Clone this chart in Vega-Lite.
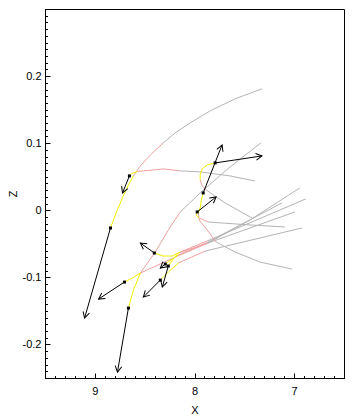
{
  "$schema": "https://vega.github.io/schema/vega-lite/v6.json",
  "width": 299,
  "height": 369,
  "autosize": {"type": "none"},
  "padding": {"left": 45, "top": 9, "right": 11, "bottom": 40},
  "background": "white",
  "config": {
    "view": {"stroke": "black", "strokeWidth": 1},
    "axis": {
      "grid": false,
      "domainColor": "black",
      "tickColor": "black",
      "labelColor": "black",
      "titleColor": "black",
      "labelFont": "Liberation Sans",
      "titleFont": "Liberation Sans",
      "labelFontSize": 11,
      "titleFontSize": 11,
      "titleFontWeight": "normal",
      "labelOverlap": false,
      "labelBound": false,
      "labelFlush": false,
      "tickCount": 500
    }
  },
  "datasets": {
    "trails": [
      {"t":1,"s":"new","i":0,"x":8.843,"z":-0.0264},
      {"t":1,"s":"new","i":1,"x":8.783,"z":-0.0025},
      {"t":1,"s":"new","i":2,"x":8.723,"z":0.0184},
      {"t":1,"s":"new","i":3,"x":8.663,"z":0.0378},
      {"t":1,"s":"new","i":4,"x":8.613,"z":0.0512},
      {"t":1,"s":"mid","i":0,"x":8.613,"z":0.0512},
      {"t":1,"s":"mid","i":1,"x":8.543,"z":0.0661},
      {"t":1,"s":"mid","i":2,"x":8.443,"z":0.0825},
      {"t":1,"s":"mid","i":3,"x":8.313,"z":0.1004},
      {"t":1,"s":"old","i":0,"x":8.313,"z":0.1004},
      {"t":1,"s":"old","i":1,"x":8.193,"z":0.1154},
      {"t":1,"s":"old","i":2,"x":8.043,"z":0.1303},
      {"t":1,"s":"old","i":3,"x":7.843,"z":0.1482},
      {"t":1,"s":"old","i":4,"x":7.593,"z":0.1661},
      {"t":1,"s":"old","i":5,"x":7.323,"z":0.1810},
      {"t":2,"s":"new","i":0,"x":8.653,"z":0.0512},
      {"t":2,"s":"new","i":1,"x":8.628,"z":0.0549},
      {"t":2,"s":"new","i":2,"x":8.573,"z":0.0579},
      {"t":2,"s":"mid","i":0,"x":8.573,"z":0.0579},
      {"t":2,"s":"mid","i":1,"x":8.413,"z":0.0601},
      {"t":2,"s":"mid","i":2,"x":8.313,"z":0.0616},
      {"t":2,"s":"mid","i":3,"x":8.143,"z":0.0587},
      {"t":2,"s":"old","i":0,"x":8.143,"z":0.0587},
      {"t":2,"s":"old","i":1,"x":7.943,"z":0.0572},
      {"t":2,"s":"old","i":2,"x":7.643,"z":0.0512},
      {"t":2,"s":"old","i":3,"x":7.393,"z":0.0437},
      {"t":3,"s":"new","i":0,"x":8.703,"z":-0.1070},
      {"t":3,"s":"new","i":1,"x":8.623,"z":-0.1010},
      {"t":3,"s":"new","i":2,"x":8.543,"z":-0.0936},
      {"t":3,"s":"mid","i":0,"x":8.543,"z":-0.0936},
      {"t":3,"s":"mid","i":1,"x":8.193,"z":-0.0697},
      {"t":3,"s":"mid","i":2,"x":7.863,"z":-0.0488},
      {"t":3,"s":"old","i":0,"x":7.863,"z":-0.0488},
      {"t":3,"s":"old","i":1,"x":7.443,"z":-0.0145},
      {"t":3,"s":"old","i":2,"x":6.943,"z":0.0333},
      {"t":4,"s":"new","i":0,"x":8.663,"z":-0.1458},
      {"t":4,"s":"new","i":1,"x":8.613,"z":-0.1190},
      {"t":4,"s":"new","i":2,"x":8.543,"z":-0.0936},
      {"t":4,"s":"mid","i":0,"x":8.543,"z":-0.0936},
      {"t":4,"s":"mid","i":1,"x":8.393,"z":-0.0622},
      {"t":4,"s":"mid","i":2,"x":8.263,"z":-0.0294},
      {"t":4,"s":"mid","i":3,"x":8.143,"z":-0.0025},
      {"t":4,"s":"old","i":0,"x":8.143,"z":-0.0025},
      {"t":4,"s":"old","i":1,"x":7.943,"z":0.0258},
      {"t":4,"s":"old","i":2,"x":7.643,"z":0.0646},
      {"t":4,"s":"old","i":3,"x":7.333,"z":0.1004},
      {"t":5,"s":"new","i":0,"x":8.403,"z":-0.0637},
      {"t":5,"s":"new","i":1,"x":8.313,"z":-0.0682},
      {"t":5,"s":"new","i":2,"x":8.223,"z":-0.0682},
      {"t":5,"s":"new","i":3,"x":8.143,"z":-0.0622},
      {"t":5,"s":"mid","i":0,"x":8.143,"z":-0.0622},
      {"t":5,"s":"mid","i":1,"x":7.873,"z":-0.0458},
      {"t":5,"s":"old","i":0,"x":7.873,"z":-0.0458},
      {"t":5,"s":"old","i":1,"x":6.883,"z":0.0169},
      {"t":6,"s":"new","i":0,"x":8.293,"z":-0.0801},
      {"t":6,"s":"new","i":1,"x":8.223,"z":-0.0727},
      {"t":6,"s":"new","i":2,"x":8.163,"z":-0.0667},
      {"t":6,"s":"mid","i":0,"x":8.163,"z":-0.0667},
      {"t":6,"s":"mid","i":1,"x":7.883,"z":-0.0488},
      {"t":6,"s":"old","i":0,"x":7.883,"z":-0.0488},
      {"t":6,"s":"old","i":1,"x":7.123,"z":0.0109},
      {"t":7,"s":"new","i":0,"x":8.263,"z":-0.0831},
      {"t":7,"s":"new","i":1,"x":8.213,"z":-0.0727},
      {"t":7,"s":"new","i":2,"x":8.163,"z":-0.0637},
      {"t":7,"s":"mid","i":0,"x":8.163,"z":-0.0637},
      {"t":7,"s":"mid","i":1,"x":7.893,"z":-0.0503},
      {"t":7,"s":"old","i":0,"x":7.893,"z":-0.0503},
      {"t":7,"s":"old","i":1,"x":6.993,"z":-0.0025},
      {"t":8,"s":"new","i":0,"x":8.343,"z":-0.1040},
      {"t":8,"s":"new","i":1,"x":8.263,"z":-0.0921},
      {"t":8,"s":"new","i":2,"x":8.163,"z":-0.0787},
      {"t":8,"s":"mid","i":0,"x":8.163,"z":-0.0787},
      {"t":8,"s":"mid","i":1,"x":7.893,"z":-0.0608},
      {"t":8,"s":"old","i":0,"x":7.893,"z":-0.0608},
      {"t":8,"s":"old","i":1,"x":6.923,"z":-0.0264},
      {"t":9,"s":"new","i":0,"x":7.793,"z":0.0706},
      {"t":9,"s":"new","i":1,"x":7.873,"z":0.0676},
      {"t":9,"s":"new","i":2,"x":7.923,"z":0.0616},
      {"t":9,"s":"new","i":3,"x":7.943,"z":0.0527},
      {"t":9,"s":"new","i":4,"x":7.943,"z":0.0452},
      {"t":9,"s":"mid","i":0,"x":7.943,"z":0.0452},
      {"t":9,"s":"mid","i":1,"x":7.923,"z":0.0363},
      {"t":9,"s":"mid","i":2,"x":7.883,"z":0.0303},
      {"t":9,"s":"old","i":0,"x":7.883,"z":0.0303},
      {"t":9,"s":"old","i":1,"x":7.693,"z":0.0109},
      {"t":9,"s":"old","i":2,"x":7.423,"z":-0.0115},
      {"t":10,"s":"new","i":0,"x":7.913,"z":0.0258},
      {"t":10,"s":"new","i":1,"x":7.933,"z":0.0139},
      {"t":10,"s":"new","i":2,"x":7.943,"z":0.0034},
      {"t":10,"s":"new","i":3,"x":7.963,"z":-0.0040},
      {"t":10,"s":"mid","i":0,"x":7.963,"z":-0.0040},
      {"t":10,"s":"mid","i":1,"x":7.953,"z":-0.0145},
      {"t":10,"s":"mid","i":2,"x":7.873,"z":-0.0294},
      {"t":10,"s":"mid","i":3,"x":7.783,"z":-0.0473},
      {"t":10,"s":"old","i":0,"x":7.783,"z":-0.0473},
      {"t":10,"s":"old","i":1,"x":7.593,"z":-0.0622},
      {"t":10,"s":"old","i":2,"x":7.343,"z":-0.0772},
      {"t":10,"s":"old","i":3,"x":7.023,"z":-0.0876},
      {"t":11,"s":"new","i":0,"x":7.973,"z":-0.0025},
      {"t":11,"s":"new","i":1,"x":7.983,"z":-0.0070},
      {"t":11,"s":"new","i":2,"x":7.953,"z":-0.0115},
      {"t":11,"s":"mid","i":0,"x":7.953,"z":-0.0115},
      {"t":11,"s":"mid","i":1,"x":7.863,"z":-0.0175},
      {"t":11,"s":"old","i":0,"x":7.863,"z":-0.0175},
      {"t":11,"s":"old","i":1,"x":7.443,"z":-0.0219},
      {"t":11,"s":"old","i":2,"x":7.093,"z":-0.0249}
    ],
    "arrows": [
      {"a":1,"x":8.843,"z":-0.0264,"x2":9.103,"z2":-0.1607},
      {"a":2,"x":8.653,"z":0.0512,"x2":8.723,"z2":0.0258},
      {"a":3,"x":8.703,"z":-0.1070,"x2":8.963,"z2":-0.1324},
      {"a":4,"x":8.663,"z":-0.1458,"x2":8.773,"z2":-0.2413},
      {"a":5,"x":8.403,"z":-0.0637,"x2":8.543,"z2":-0.0488},
      {"a":6,"x":8.293,"z":-0.0801,"x2":8.343,"z2":-0.0861},
      {"a":7,"x":8.263,"z":-0.0831,"x2":8.323,"z2":-0.1145},
      {"a":8,"x":8.343,"z":-0.1040,"x2":8.513,"z2":-0.1294},
      {"a":9,"x":7.793,"z":0.0706,"x2":7.323,"z2":0.0810},
      {"a":10,"x":7.913,"z":0.0258,"x2":7.723,"z2":0.0975},
      {"a":11,"x":7.973,"z":-0.0025,"x2":7.783,"z2":0.0199}
    ]
  },
  "layer": [
    {
      "data": {"name": "trails"},
      "transform": [{"filter": "datum.s === 'old'"}],
      "mark": {"type": "line", "color": "#b4b4b4", "strokeWidth": 1},
      "encoding": {
        "x": {
          "field": "x", "type": "quantitative",
          "scale": {"domain": [6.5, 9.5], "reverse": true, "nice": false, "zero": false},
          "axis": {
            "title": "X",
            "tickCount": 500,
            "values": [6.5,6.6,6.7,6.8,6.9,7,7.1,7.2,7.3,7.4,7.5,7.6,7.7,7.8,7.9,8,8.1,8.2,8.3,8.4,8.5,8.6,8.7,8.8,8.9,9,9.1,9.2,9.3,9.4,9.5],
            "labelExpr": "(datum.value == 7 || datum.value == 8 || datum.value == 9) ? '' + datum.value : ''",
            "tickSize": {"condition": {"test": "datum.value == 7 || datum.value == 8 || datum.value == 9", "value": -5}, "value": -2.5},
            "labelPadding": 12,
            "titlePadding": 6
          }
        },
        "y": {
          "field": "z", "type": "quantitative",
          "scale": {"domain": [-0.25, 0.3], "nice": false, "zero": false},
          "axis": {
            "title": "Z",
            "tickCount": 500,
            "values": [-0.25,-0.24,-0.23,-0.22,-0.21,-0.2,-0.19,-0.18,-0.17,-0.16,-0.15,-0.14,-0.13,-0.12,-0.11,-0.1,-0.09,-0.08,-0.07,-0.06,-0.05,-0.04,-0.03,-0.02,-0.01,0,0.01,0.02,0.03,0.04,0.05,0.06,0.07,0.08,0.09,0.1,0.11,0.12,0.13,0.14,0.15,0.16,0.17,0.18,0.19,0.2,0.21,0.22,0.23,0.24,0.25,0.26,0.27,0.28,0.29,0.3],
            "labelExpr": "indexof(['0.2','0.1','0','-0.1','-0.2'], '' + datum.value) >= 0 ? '' + datum.value : ''",
            "tickSize": {"condition": {"test": "indexof(['0.3','0.2','0.1','0','-0.1','-0.2'], '' + datum.value) >= 0", "value": -5}, "value": -2.5},
            "labelPadding": 9,
            "titlePadding": 4
          }
        },
        "detail": {"field": "t"},
        "order": {"field": "i"}
      }
    },
    {
      "mark": {"type": "rule", "color": "#c0c0c0", "strokeWidth": 1},
      "encoding": {"x": {"datum": 8, "type": "quantitative"}}
    },
    {
      "mark": {"type": "rule", "color": "#c0c0c0", "strokeWidth": 1},
      "encoding": {"y": {"datum": 0, "type": "quantitative"}}
    },
    {
      "data": {"name": "trails"},
      "transform": [{"filter": "datum.s === 'mid'"}],
      "mark": {"type": "line", "color": "#f0a0a0", "strokeWidth": 1},
      "encoding": {
        "x": {"field": "x", "type": "quantitative"},
        "y": {"field": "z", "type": "quantitative"},
        "detail": {"field": "t"},
        "order": {"field": "i"}
      }
    },
    {
      "data": {"name": "trails"},
      "transform": [{"filter": "datum.s === 'new'"}],
      "mark": {"type": "line", "color": "#f0f000", "strokeWidth": 1},
      "encoding": {
        "x": {"field": "x", "type": "quantitative"},
        "y": {"field": "z", "type": "quantitative"},
        "detail": {"field": "t"},
        "order": {"field": "i"}
      }
    },
    {
      "data": {"name": "arrows"},
      "mark": {"type": "rule", "color": "black", "strokeWidth": 1},
      "encoding": {
        "x": {"field": "x", "type": "quantitative"},
        "y": {"field": "z", "type": "quantitative"},
        "x2": {"field": "x2"},
        "y2": {"field": "z2"}
      }
    },
    {
      "data": {"name": "arrows"},
      "transform": [{"calculate": "atan2(-(datum.x2 - datum.x) * 100, (datum.z2 - datum.z) * 670) * 180 / PI", "as": "ang"}],
      "mark": {"type": "point", "shape": "M-0.6,1.1L0,0L0.6,1.1", "filled": false, "color": "black", "strokeWidth": 1, "size": 121, "opacity": 1},
      "encoding": {
        "x": {"field": "x2", "type": "quantitative"},
        "y": {"field": "z2", "type": "quantitative"},
        "angle": {"field": "ang", "type": "quantitative", "scale": null}
      }
    },
    {
      "data": {"name": "arrows"},
      "mark": {"type": "point", "shape": "square", "filled": true, "color": "black", "size": 9, "opacity": 1},
      "encoding": {
        "x": {"field": "x", "type": "quantitative"},
        "y": {"field": "z", "type": "quantitative"}
      }
    }
  ]
}
